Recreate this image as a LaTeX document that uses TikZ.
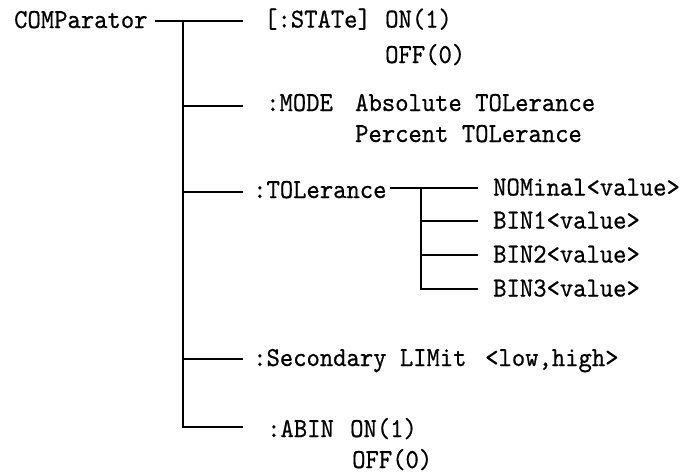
\documentclass[tikz,border=0pt]{standalone}
\usepackage{fontspec}
\newfontfamily\refmono{lmmono10-regular}[Extension=.otf, FakeBold=0.6]
\newcommand\reftxt[1]{\scalebox{1}[1.08]{#1}}
\begin{document}
\begin{tikzpicture}[x=1pt,y=-1pt,
  conn/.style={line width=1.7pt, line join=miter, black},
  txt/.style={anchor=base west, inner sep=0pt, font=\refmono\fontsize{25.4}{30}\selectfont}]
\useasboundingbox (0,0) rectangle (685,475);

% ---- text nodes
\node[txt] (comp) at (14,28) {\reftxt{COMParator}};
\node[txt] (state) at (264,27.5) {\reftxt{[:STATe]}};
\node[txt] (on1) at (385,27.5) {\reftxt{ON(1)}};
\node[txt] (off1) at (385,63) {\reftxt{OFF(0)}};
\node[txt] (mode) at (266,111) {\reftxt{:MODE}};
\node[txt] (abs) at (355,111) {\reftxt{Absolute TOLerance}};
\node[txt] (pct) at (355,142) {\reftxt{Percent TOLerance}};
\node[txt] (tol) at (253,198) {\reftxt{:TOLerance}};
\node[txt] (nom) at (493,195.5) {\reftxt{NOMinal<value>}};
\node[txt] (bin1) at (493,228.5) {\reftxt{BIN1<value>}};
\node[txt] (bin2) at (493,262.5) {\reftxt{BIN2<value>}};
\node[txt] (bin3) at (493,296.5) {\reftxt{BIN3<value>}};
\node[txt] (sec) at (253,366) {\reftxt{:Secondary LIMit}};
\node[txt] (lh) at (485,366) {\reftxt{<low,high>}};
\node[txt] (abin) at (267,437) {\reftxt{:ABIN}};
\node[txt] (on2) at (350,437) {\reftxt{ON(1)}};
\node[txt] (off2) at (352,468) {\reftxt{OFF(0)}};

% ---- junction coordinates
\coordinate (c0) at (155,21);
\coordinate (t0) at (183,21);
\coordinate (t1) at (183,106);
\coordinate (t2) at (183,192);
\coordinate (t3) at (183,359);
\coordinate (t4) at (183,427);
\coordinate (b0) at (243,21);
\coordinate (b1) at (243,106);
\coordinate (b2) at (243,192);
\coordinate (b3) at (243,359);
\coordinate (b4) at (243,427);

\coordinate (u0) at (390,188);
\coordinate (s0) at (421,188);
\coordinate (s1) at (421,221);
\coordinate (s2) at (421,255);
\coordinate (s3) at (421,289);
\coordinate (v0) at (478,188);
\coordinate (v1) at (478,221);
\coordinate (v2) at (478,255);
\coordinate (v3) at (478,289);

% ---- connectors
\draw[conn] (c0) -- (b0);
\draw[conn] (t0) -- (t4) -- (b4);
\draw[conn] (t1) -- (b1);
\draw[conn] (t2) -- (b2);
\draw[conn] (t3) -- (b3);

\draw[conn] (u0) -- (v0);
\draw[conn] (s0) -- (s3) -- (v3);
\draw[conn] (s1) -- (v1);
\draw[conn] (s2) -- (v2);
\end{tikzpicture}
\end{document}
